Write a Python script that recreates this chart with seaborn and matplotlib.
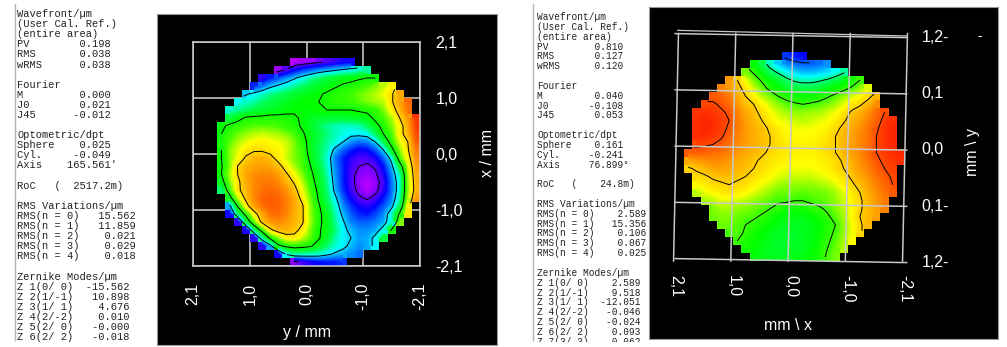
import numpy as np
import matplotlib
matplotlib.use("Agg")
import matplotlib.pyplot as plt
import matplotlib.patches as patches
from matplotlib.colors import LinearSegmentedColormap
import seaborn as sns

W, H = 1007, 347
o = np.nan

# Wavefront maps, 0 = magenta (low) ... 100 = red (high), nan = outside the pupil
left_map = [
    [o]*28,
    [o]*28,
    [o]*12 + [5,6,7,9,11,13,15,16] + [o]*8,
    [o]*10 + [7,11,16,20,23,26,28,30,32,34,36,38] + [o]*6,
    [o]*8 + [14,18,22,26,30,34,38,41,44,46,48,49,50,51,51] + [o]*5,
    [o]*7 + [19,24,29,32,35,38,41,44,46,48,50,52,53,55,57,60,63,68] + [o]*3,
    [o]*6 + [30,33,36,39,41,43,45,47,49,50,52,54,55,57,59,61,63,66,71,78] + [o]*2,
    [o]*5 + [34,36,38,41,43,45,47,49,50,51,51,53,54,55,56,58,60,62,63,71,78,86] + [o],
    [o]*4 + [36,38,41,43,45,46,48,49,50,50,49,50,51,51,51,51,52,53,55,60,68,76,85] + [o],
    [o]*4 + [44,48,52,53,53,54,53,53,52,50,47,46,45,45,45,46,47,48,53,57,62,72,80,93],
    [o]*3 + [49,53,55,57,58,58,58,57,55,53,50,46,42,39,37,36,36,37,42,48,54,60,68,78,92],
    [o]*3 + [51,56,59,61,63,64,63,62,60,57,52,48,44,40,37,35,33,33,34,42,51,57,69,76,90],
    [o]*3 + [52,58,62,65,67,68,67,66,64,60,54,48,43,39,36,31,26,24,25,31,43,55,65,72,88],
    [o]*3 + [51,60,65,69,71,71,69,68,65,60,56,47,42,38,29,23,19,16,17,22,31,48,61,71,84],
    [o]*3 + [51,60,66,73,76,77,75,69,64,60,57,49,42,36,25,19,14,12,12,15,23,34,57,68,82],
    [o]*3 + [50,60,72,76,78,79,78,75,68,62,57,51,44,37,26,19,13,10,9,11,18,29,46,64,80],
    [o]*3 + [51,62,72,78,81,82,82,80,73,67,60,53,46,38,27,19,12,8,7,9,15,26,38,62,78],
    [o]*3 + [47,60,70,77,82,84,84,82,77,71,63,55,47,40,28,19,12,7,5,7,13,24,36,61,77],
    [o]*3 + [41,56,70,76,82,85,86,85,81,75,66,57,49,41,29,20,13,8,5,8,14,24,36,61,76],
    [o]*4 + [47,63,74,82,87,88,87,83,78,69,59,50,42,33,23,16,11,9,12,18,25,38,63,80],
    [o]*4 + [28,52,68,79,85,88,87,84,78,73,61,52,45,36,26,20,16,14,17,22,29,42,68] + [o],
    [o]*4 + [16,40,54,68,78,85,86,83,77,73,61,53,47,38,29,23,19,18,21,26,36,53,70] + [o],
    [o]*5 + [14,42,58,74,80,82,80,76,73,62,53,48,39,32,25,23,23,25,28,36,60] + [o]*2,
    [o]*6 + [15,40,55,70,76,77,75,69,60,52,48,41,33,29,26,26,28,34,52] + [o]*3,
    [o]*7 + [14,37,53,60,68,69,64,58,52,46,38,33,31,27,28,33,44] + [o]*4,
    [o]*8 + [14,27,49,53,55,54,52,47,41,36,33,29,26,28,33] + [o]*5,
    [o]*10 + [16,33,38,38,37,36,33,30,28,26,24] + [o]*7,
    [o]*12 + [8,12,15,17,18,18,20] + [o]*9,
]

right_map = [
    [o]*28,
    [o]*28,
    [o]*13 + [20,18,17] + [o]*12,
    [o]*9 + [50,43,36,30,26,24,23,23,24,26] + [o]*9,
    [o]*8 + [60,55,48,42,38,34,31,29,29,30,31,34,38] + [o]*7,
    [o]*6 + [80,73,66,60,55,49,45,41,38,37,37,38,40,43,47,52,56] + [o]*5,
    [o]*5 + [83,80,76,70,64,59,54,50,46,44,43,43,45,48,51,54,57,61,65] + [o]*4,
    [o]*4 + [88,87,84,78,73,68,63,60,56,54,52,51,51,53,55,58,61,64,67,71,76] + [o]*3,
    [o]*3 + [91,91,89,86,80,75,73,68,64,61,58,57,56,57,58,60,62,65,70,72,76,82] + [o]*3,
    [o]*2 + [93,94,93,91,89,83,78,75,71,67,64,62,61,61,62,62,64,66,70,74,77,81,86,90] + [o]*2,
    [o]*2 + [94,95,94,92,90,84,79,76,73,69,66,65,64,63,64,65,66,69,72,76,79,83,87,92,94] + [o],
    [o]*2 + [94,95,94,92,89,84,80,77,75,72,69,67,66,66,66,67,68,71,75,78,81,85,89,93,95] + [o],
    [o]*2 + [94,94,93,91,87,83,80,77,75,73,70,68,67,67,67,68,70,73,76,79,82,85,90,93,95] + [o],
    [o]*2 + [91,91,90,88,85,82,79,77,75,73,71,69,68,68,68,69,71,73,76,79,82,85,90,93,95] + [o],
    [o] + [88,88,87,86,85,83,80,78,76,74,72,70,69,68,68,68,69,71,73,76,79,82,86,90,92,94,95],
    [o] + [78,80,81,82,82,80,78,76,74,72,70,69,68,67,67,67,68,69,71,74,77,81,85,89,91,93,94],
    [o] + [72,74,76,78,79,78,76,75,73,71,69,67,66,66,66,66,67,68,71,73,76,80,83,87,90,92] + [o],
    [o]*2 + [71,72,74,75,75,74,73,71,69,67,65,64,64,64,64,65,66,68,71,74,78,81,85,88,91] + [o],
    [o]*2 + [67,69,71,72,73,72,71,68,66,64,62,61,61,61,61,62,63,65,68,72,75,79,83,86,90] + [o],
    [o]*2 + [63,65,67,69,70,69,67,65,63,61,59,59,59,58,59,59,60,62,65,69,73,77,81,85,88] + [o],
    [o]*3 + [62,63,65,65,64,63,61,60,58,57,57,56,56,57,58,59,61,64,68,72,76,80,84] + [o]*2,
    [o]*4 + [60,62,62,61,60,59,58,56,54,52,52,52,54,55,57,60,63,67,72,76,79,83] + [o]*2,
    [o]*4 + [59,60,60,59,58,57,55,52,50,49,48,48,50,52,55,58,62,67,73,76,79] + [o]*3,
    [o]*5 + [59,59,58,56,54,52,50,48,47,47,47,48,50,53,56,61,66,72,76] + [o]*4,
    [o]*6 + [57,58,55,52,50,48,47,46,46,47,48,50,54,57,61,66,72] + [o]*5,
    [o]*7 + [56,53,51,49,47,46,46,46,47,48,51,55,58,62,67] + [o]*6,
    [o]*8 + [52,50,48,47,46,46,47,47,49,52,56,59,63] + [o]*7,
    [o]*9 + [49,48,47,47,47,48,48,50,53,57,60] + [o]*8,
]

left_levels = [10, 31, 51, 72]
right_levels = [22, 39, 56, 73, 90]

left_text = [
    "Wavefront/\u00b5m", "(User Cal. Ref.)", "(entire area)",
    "PV        0.198", "RMS       0.038", "wRMS      0.038", "",
    "Fourier", "M         0.000", "J0        0.021", "J45      -0.012", "",
    "Optometric/dpt", "Sphere    0.025", "Cyl.     -0.049", "Axis    165.561'", "",
    "RoC   (  2517.2m)", "",
    "RMS Variations/\u00b5m", "RMS(n = 0)   15.562", "RMS(n = 1)   11.859",
    "RMS(n = 2)    0.021", "RMS(n = 3)    0.029", "RMS(n = 4)    0.018", "",
    "Zernike Modes/\u00b5m", "Z 1(0/ 0)  -15.562", "Z 2(1/-1)   10.898",
    "Z 3(1/ 1)    4.676", "Z 4(2/-2)    0.010", "Z 5(2/ 0)   -0.000", "Z 6(2/ 2)   -0.018",
]
right_text = [
    "Wavefront/\u00b5m", "(User Cal. Ref.)", "(entire area)",
    "PV        0.810", "RMS       0.127", "wRMS      0.120", "",
    "Fourier", "M         0.040", "J0       -0.108", "J45       0.053", "",
    "Optometric/dpt", "Sphere    0.161", "Cyl.     -0.241", "Axis     76.899\u00b0", "",
    "RoC   (    24.8m)", "",
    "RMS Variations/\u00b5m", "RMS(n = 0)    2.589", "RMS(n = 1)   15.356",
    "RMS(n = 2)    0.106", "RMS(n = 3)    0.067", "RMS(n = 4)    0.025", "",
    "Zernike Modes/\u00b5m", "Z 1(0/ 0)    2.589", "Z 2(1/-1)    9.518",
    "Z 3(1/ 1)  -12.051", "Z 4(2/-2)   -0.046", "Z 5(2/ 0)   -0.024", "Z 6(2/ 2)    0.093",
    "Z 7(3/-3)    0.062",
]

tick_pos = [0, 7, 14, 21, 28]
left_xticks = ["2,1", "1,0", "0,0", "-1,0", "-2,1"]
left_yticks = ["2,1", "1,0", "0,0", "-1,0", "-2,1"]
right_xticks = ["2,1", "1,0", "0,0", "-1,0", "-2,1"]
right_yticks = ["1,2-", "0,1", "0,0", "0,1-", "1,2-"]

cmap = LinearSegmentedColormap.from_list("wave", [
    (0, "#ff00ff"), (1/6, "#0000ff"), (1/3, "#00ffff"), (0.42, "#00ff50"),
    (0.5, "#00ff00"), (0.57, "#40ff00"), (2/3, "#ffff00"), (1, "#ff0000")])

plt.rcParams["font.family"] = ["Liberation Sans", "DejaVu Sans"]
fig = plt.figure(figsize=(W/100, H/100), dpi=100, facecolor="white")


def px_axes(x0, y0, x1, y1, **kw):
    return fig.add_axes([x0/W, 1 - y1/H, (x1-x0)/W, (y1-y0)/H], **kw)


def panel(x0, y0, x1, y1):
    ax = px_axes(x0, y0, x1, y1, facecolor="black")
    ax.set_xticks([])
    ax.set_yticks([])
    for s in ax.spines.values():
        s.set_color("#9a9a9a")
        s.set_linewidth(0.8)


def draw_map(ax, values, levels):
    data = np.array(values, dtype=float)
    n = data.shape[0]
    # blocky heatmap gives the stepped pupil edge, the image smooths the inside
    sns.heatmap(data, ax=ax, cmap=cmap, vmin=0, vmax=100, cbar=False,
                xticklabels=False, yticklabels=False)
    ax.imshow(np.ma.masked_invalid(data), cmap=cmap, vmin=0, vmax=100, aspect="auto",
              extent=(0, n, n, 0), interpolation="bilinear", zorder=1.5)
    centers = np.arange(n) + 0.5
    ax.contour(centers, centers, np.ma.masked_invalid(data), levels=levels,
               colors="black", linewidths=0.7, zorder=2)
    ax.set_xlim(0, n)
    ax.set_ylim(n, 0)
    ax.set_facecolor("black")


def text_block(lines, x, y0, dy, size):
    for i, line in enumerate(lines):
        fig.text(x/W, 1 - (y0 + dy*i)/H, line, family="Liberation Mono", fontsize=size,
                 color="#222222", va="center", ha="left")


# text columns
fig.add_artist(plt.Line2D([15/W, 15/W], [1-340/H, 1-4/H], color="#b5b5b5", lw=1))
fig.add_artist(plt.Line2D([533/W, 533/W], [1-340/H, 1-4/H], color="#b5b5b5", lw=1))
text_block(left_text, 17, 14, 10.1, 7.5)
text_block(right_text, 537, 17, 9.84, 6.85)
fig.add_artist(patches.Rectangle((530/W, 0), 115/W, 5/H, transform=fig.transFigure,
                                 facecolor="white", edgecolor="none", zorder=5))

# left map
panel(157, 14, 497, 345)
ax1 = px_axes(193, 42, 420, 266)
draw_map(ax1, left_map, left_levels)
ax1.set_axisbelow(True)
ax1.grid(True, color="#d0d0d0", lw=1.1)
ax1.set_xticks(tick_pos)
ax1.set_xticklabels(left_xticks, rotation=90, color="white", fontsize=11.5)
ax1.set_yticks(tick_pos)
ax1.set_yticklabels(left_yticks, color="white", fontsize=11.5)
ax1.yaxis.tick_right()
ax1.tick_params(axis="x", length=0, pad=12, bottom=True, labelbottom=True)
ax1.tick_params(axis="y", length=0, pad=11)
for s in ax1.spines.values():
    s.set_visible(True)
    s.set_color("#d0d0d0")
    s.set_linewidth(1.1)
fig.text(307/W, 1-333/H, "y / mm", color="white", fontsize=11.5, ha="center", va="center")
fig.text(487/W, 1-153/H, "x / mm", color="white", fontsize=11.5, ha="center", va="center", rotation=90)

# right map, the scan is slightly skewed and mirrored
panel(649, 7, 998, 339)
ax2 = px_axes(676, 36, 905, 261)
draw_map(ax2, right_map, right_levels)
ax2.grid(False)
for t in tick_pos:
    ax2.plot([t+0.3, t-0.3], [-0.3, 28], color="#c8c8c8", lw=1.1, clip_on=False, zorder=3)
    ax2.plot([-0.1, 28.2], [t-0.3, t+0.2], color="#c8c8c8", lw=1.1, clip_on=False, zorder=3)
ax2.plot([0.2, 28.2], [-0.7, 0.0], color="#c8c8c8", lw=0.9, clip_on=False, zorder=3)
ax2.set_xticks(tick_pos)
ax2.set_xticklabels(right_xticks, rotation=270, color="white", fontsize=11.5)
ax2.set_yticks(tick_pos)
ax2.set_yticklabels(right_yticks, color="white", fontsize=11.5)
ax2.yaxis.tick_right()
ax2.tick_params(axis="x", length=0, pad=10, bottom=True, labelbottom=True)
ax2.tick_params(axis="y", length=0, pad=12)
for s in ax2.spines.values():
    s.set_visible(False)
fig.text(788/W, 1-326/H, "mm \\ x", color="white", fontsize=11.5, ha="center", va="center")
fig.text(972/W, 1-152/H, "mm \\ y", color="white", fontsize=11.5, ha="center", va="center", rotation=90)
fig.text(980/W, 1-36/H, "-", color="white", fontsize=10, ha="center", va="center")

fig.savefig("out.png", dpi=100)
